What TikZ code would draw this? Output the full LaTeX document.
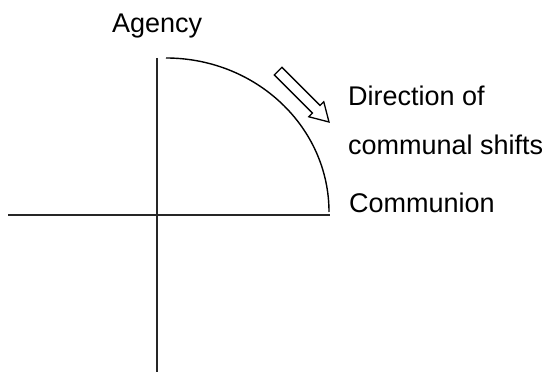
\documentclass[tikz,border=0pt]{standalone}
\usepackage{fontspec}
\setmainfont{Liberation Sans}
\begin{document}
\begin{tikzpicture}
[
x=1pt,y=1pt,
lbl/.style={font=\fontsize{27}{31}\selectfont,anchor=base west,inner sep=0pt},
axis/.style={draw=black!85,line width=1.6pt},
curve/.style={draw=black,line width=1.4pt},
shiftarrow/.style={draw=black,line width=1.3pt,line join=miter},
]
\useasboundingbox (0,0) rectangle (550,372);

%Place the labels
\node[lbl] (agency) at (112,339) {Agency};
\node[lbl] (direction) at (348,266) {Direction of};
\node[lbl] (shifts) at (348,217) {communal shifts};
\node[lbl] (communion) at (349,159) {Communion};

%Axes
\coordinate (ytop) at (157,314);
\coordinate (ybot) at (157,0);
\coordinate (xleft) at (8,157);
\coordinate (xright) at (330,157);
\draw[axis] (ytop) -- (ybot);
\draw[axis] (xleft) -- (xright);

%Quarter arc
\draw[curve] (166,314) arc[start angle=90,end angle=0,x radius=163,y radius=154];

%Hollow arrow
\begin{scope}[shift={(329,250)},rotate=-45]
\draw[shiftarrow] (0,0) -- (-18,10.6) -- (-18,5.4) -- (-72,5.4) -- (-72,-5.4)
  -- (-18,-5.4) -- (-18,-10.6) -- cycle;
\end{scope}
\end{tikzpicture}
\end{document}
